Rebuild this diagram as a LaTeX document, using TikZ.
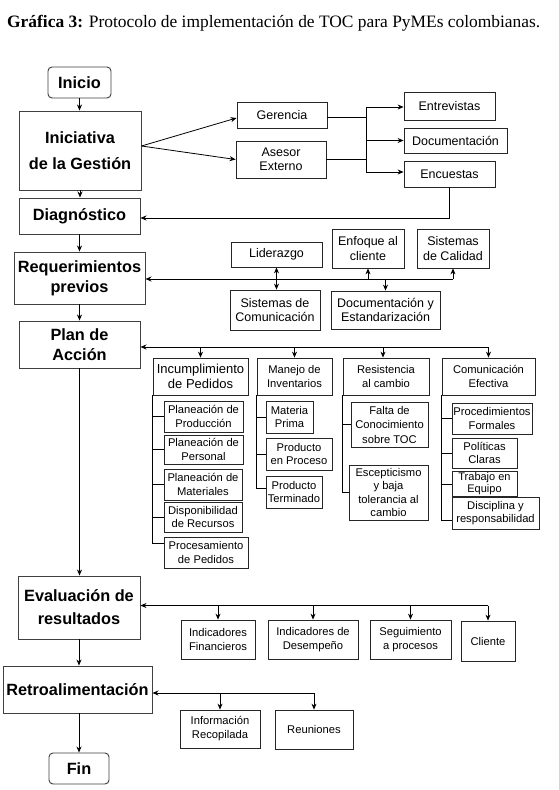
\documentclass[tikz,border=0pt]{standalone}
\usepackage{fontspec}
\usepackage{graphicx}
\setmainfont{Liberation Serif}
\setsansfont{Liberation Sans}
\usetikzlibrary{arrows.meta}
\begin{document}
\begin{tikzpicture}[x=1pt,y=-1pt,
 mainbox/.style={draw=black!75, line width=0.95pt, align=center, inner sep=0pt, font=\sffamily\bfseries\fontsize{16.3}{20}\selectfont},
 sbox/.style={draw=black!85, line width=0.8pt, align=center, inner sep=0pt, font=\sffamily\fontsize{12.5}{14.5}\selectfont},
 tbox/.style={sbox, font=\sffamily\fontsize{11.2}{13.3}\selectfont},
 bbox/.style={sbox, font=\sffamily\fontsize{11.2}{14}\selectfont},
 arr/.style={-{Stealth[length=6pt,width=5pt]}, line width=0.8pt},
 arrb/.style={{Stealth[length=6pt,width=5pt]}-{Stealth[length=6pt,width=5pt]}, line width=0.8pt},
 ln/.style={line width=0.8pt},
 wh/.style args={#1/#2}{minimum width=#1pt, minimum height=#2pt}]
\fill[white] (0,0) rectangle (558,790);
\useasboundingbox (0,0) rectangle (558,790);
% title
\node[anchor=base west, inner sep=0pt] (title) at (7,27) {\resizebox{533pt}{!}{\textbf{Gráfica 3:} Protocolo de implementación de TOC para PyMEs colombianas.}};
% main column
\node[mainbox, rounded corners=4pt, wh=63/31] (inicio) at (79.5,82.5) {Inicio};
\node[mainbox, wh=122/79, font=\sffamily\bfseries\fontsize{16.3}{26}\selectfont] (inic) at (80,150.5) {Iniciativa\\de la Gestión};
\node[mainbox, wh=121/36] (diag) at (79.5,216) {Diagnóstico};
\node[mainbox, wh=131/52] (req) at (79.5,278) {Requerimientos\\previos};
\node[mainbox, wh=121/47] (plan) at (79.5,344.5) {Plan de\\Acción};
\node[mainbox, wh=122/63, font=\sffamily\bfseries\fontsize{16.3}{23}\selectfont] (eval) at (79,607.5) {Evaluación de\\resultados};
\node[mainbox, wh=149/47] (retro) at (77.5,689.5) {Retroalimentación};
\node[mainbox, rounded corners=4pt, wh=60/31] (fin) at (79,768.5) {Fin};
% top group
\node[sbox, wh=90/26] (ger) at (282,115) {Gerencia};
\node[sbox, wh=90/37] (ase) at (281,159.5) {Asesor\\Externo};
\node[sbox, wh=91/28] (ent) at (449.5,106) {Entrevistas};
\node[sbox, wh=103/25] (doc) at (455.5,140.5) {Documentación};
\node[sbox, wh=91/26] (enc) at (449.5,174) {Encuestas};
% requirements
\node[sbox, wh=91/25] (lid) at (276.5,254.5) {Liderazgo};
\node[sbox, wh=72/39] (enf) at (368,248.5) {Enfoque al\\cliente};
\node[sbox, wh=72/39] (cal) at (453,248.5) {Sistemas\\de Calidad};
\node[sbox, wh=90/40] (scom) at (275,310) {Sistemas de\\Comunicación};
\node[sbox, wh=109/38] (dest) at (385.5,310) {Documentación y\\Estandarización};
% plan groups
\node[sbox, wh=95/37, font=\sffamily\fontsize{13}{15.5}\selectfont] (inc) at (200.5,376.5) {Incumplimiento\\de Pedidos};
\node[tbox, wh=79/31] (pp) at (203.5,416.5) {Planeación de\\Producción};
\node[tbox, wh=79/29] (pper) at (203.5,449.5) {Planeación de\\Personal};
\node[tbox, wh=78/31] (pmat) at (203,484.5) {Planeación de\\Materiales};
\node[tbox, wh=78/30] (disp) at (203,517) {Disponibilidad\\de Recursos};
\node[tbox, wh=84/31] (proc) at (206,552.5) {Procesamiento\\de Pedidos};
\node[tbox, wh=75/37] (man) at (294.5,376.5) {Manejo de\\Inventarios};
\node[tbox, wh=47/32] (mp) at (289.5,417) {Materia\\Prima};
\node[tbox, wh=66/32] (pep) at (299,454) {Producto\\en Proceso};
\node[tbox, wh=56/32] (pt) at (294,492) {Producto\\Terminado};
\node[tbox, wh=86/37] (res) at (386,376.5) {Resistencia\\al cambio};
\node[tbox, wh=77/45, font=\sffamily\fontsize{11.2}{14.5}\selectfont] (fal) at (389.5,424.5) {Falta de\\Conocimiento\\sobre TOC};
\node[tbox, wh=79/55] (esc) at (388.5,492.5) {Escepticismo\\y baja\\tolerancia al\\cambio};
\node[tbox, wh=93/37] (com) at (488.5,376.5) {Comunicación\\Efectiva};
\node[tbox, wh=80/31] (pf) at (492,418.5) {Procedimientos\\Formales};
\node[tbox, wh=65/30] (pc) at (484.5,453) {Políticas\\Claras};
\node[tbox, wh=65/25, font=\sffamily\fontsize{11}{11.8}\selectfont] (te) at (484.5,484) {Trabajo en\\Equipo};
\node[tbox, wh=87/32] (dis) at (495.5,513) {Disciplina y\\responsabilidad};
% evaluation
\node[bbox, wh=74/39] (ifin) at (218,639.5) {Indicadores\\Financieros};
\node[bbox, wh=90/39] (ides) at (313,639.5) {Indicadores de\\Desempeño};
\node[bbox, wh=81/39] (seg) at (410.5,639.5) {Seguimiento\\a procesos};
\node[bbox, wh=54/40] (cli) at (488,641) {Cliente};
% feedback
\node[bbox, wh=80/38] (inf) at (220,729) {Información\\Recopilada};
\node[bbox, wh=78/39] (reu) at (314,729.5) {Reuniones};
% main flow
\draw[arr] (inicio) -- (inicio |- inic.north);
\draw[arr] (inic) -- (inic |- diag.north);
\draw[arr] (diag) -- (diag |- req.north);
\draw[arr] (req) -- (req |- plan.north);
\draw[arr] (plan) -- (plan |- eval.north);
\draw[arr] (eval) -- (eval |- retro.north);
\draw[arr] (fin |- retro.south) -- (fin.north);
% initiative branches
\coordinate (is) at ([yshift=4.5pt]inic.east);
\draw[arr] (is) -- ([yshift=-3pt]ger.west);
\draw[arr] (is) -- (ase.west);
\coordinate (b1) at (366,107);
\coordinate (b3) at (366,172);
\draw[ln] (b1) -- (b3);
\draw[ln] ([yshift=-2pt]ger.east) -- ([yshift=-2pt]ger.east -| b1);
\draw[ln] (ase.east) -- (ase.east -| b1);
\draw[arr] (b1) -- (b1 -| ent.west);
\draw[arr] (doc.west -| b1) -- (doc.west);
\draw[arr] (b3) -- (b3 -| enc.west);
\draw[arr] (enc.south) |- ([yshift=-2pt]diag.east);
% requirements bus
\coordinate (rb) at (453,279);
\draw[arr] (rb) -- (rb -| req.east);
\draw[arrb] (lid.south) -- (lid.south |- scom.north);
\draw[arr] (enf.south |- rb) -- (enf.south);
\draw[arr] (rb) -- (rb |- cal.south);
\draw[arr] (dest.north |- rb) -- (dest.north);
% plan bus
\coordinate (pb) at (488.5,347);
\draw[arr] (pb) -- (pb -| plan.east);
\draw[arr] (inc.north |- pb) -- (inc.north);
\draw[arr] (man.north |- pb) -- (man.north);
\draw[arr] ([xshift=-3pt]res.north |- pb) -- ([xshift=-3pt]res.north);
\draw[arr] (com.north |- pb) -- (com.north);
% trees
\draw[ln] (inc.south west) |- (pp.west);
\draw[ln] (inc.south west) |- (pper.west);
\draw[ln] (inc.south west) |- (pmat.west);
\draw[ln] (inc.south west) |- (disp.west);
\draw[ln] (inc.south west) |- ([yshift=9.5pt]proc.west);
\draw[ln] (man.south west) |- (mp.west);
\draw[ln] (man.south west) |- (pep.west);
\draw[ln] (man.south west) |- ([yshift=4pt]pt.west);
\draw[ln] (res.south west) |- (fal.west);
\draw[ln] (res.south west) |- ([yshift=0.5pt]esc.west);
\draw[ln] (com.south west) |- (pf.west);
\draw[ln] (com.south west) |- (pc.west);
\draw[ln] (com.south west) |- (te.west);
\draw[ln] (com.south west) |- ([yshift=-7pt]dis.west);
% evaluation bus
\coordinate (eb) at (488,605.5);
\draw[arr] (eb) -- (eb -| eval.east);
\draw[arr] (ifin.north |- eb) -- (ifin.north);
\draw[arr] (ides.north |- eb) -- (ides.north);
\draw[arr] (seg.north |- eb) -- (seg.north);
\draw[arr] (eb) -- (cli.north);
% feedback bus
\coordinate (fb) at (314,693);
\draw[arr] (fb) -- (fb -| retro.east);
\draw[arr] (inf.north |- fb) -- (inf.north);
\draw[arr] (fb) -- (reu.north);
\end{tikzpicture}
\end{document}
